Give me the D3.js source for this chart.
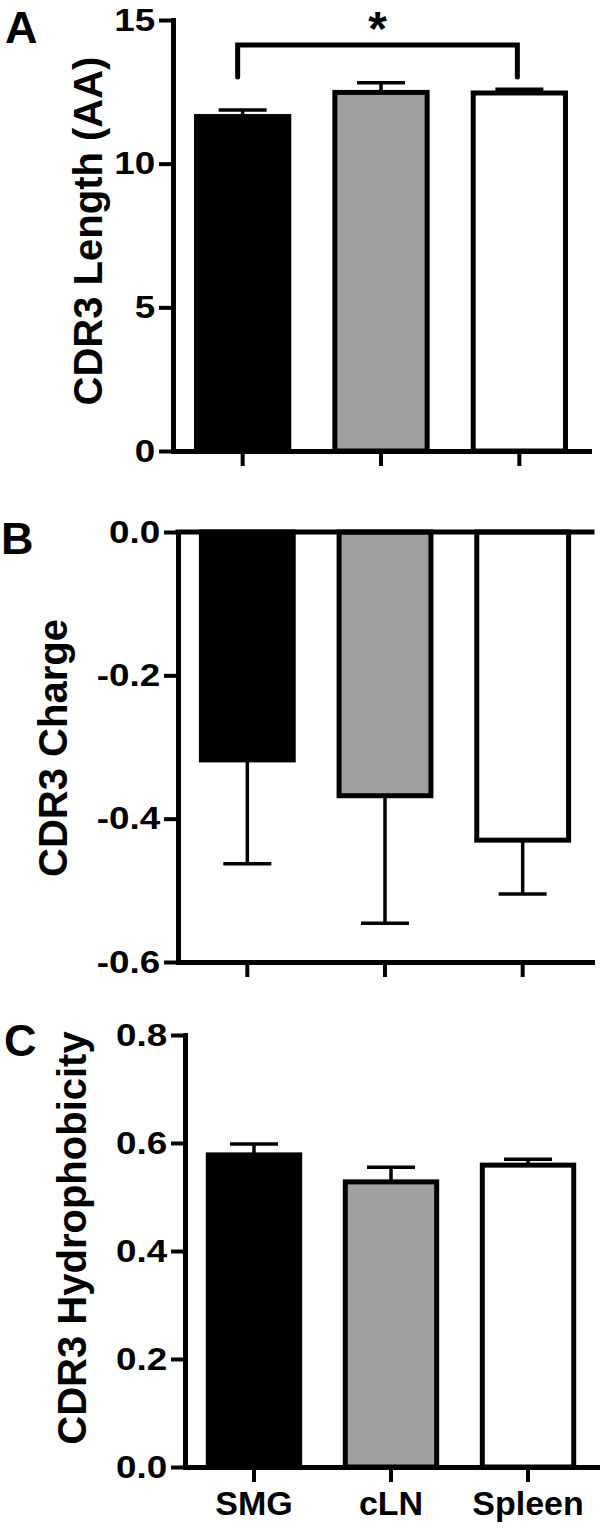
<!DOCTYPE html>
<html>
<head>
  <style>
  body { margin: 0; background: #fff; }
  #chart svg {
    font-family: "Liberation Sans", Arial, sans-serif;
    font-weight: bold;
  }
  </style>
</head>
<body>
  <script src="https://d3js.org/d3.v7.min.js"></script>
  <div id="chart"></div>
  <script>
    // groups and fills
    const groups = ["SMG", "cLN", "Spleen"];
    const fills = ["#000000", "#a0a0a0", "#ffffff"];

    // panel A: CDR3 length (mean, sem)
    const lengthMean = [11.64, 12.48, 12.46];
    const lengthSem = [0.23, 0.34, 0.13];
    const lengthTicks = [0, 5, 10, 15];

    // panel B: CDR3 charge
    const chargeMean = [-0.318, -0.368, -0.43];
    const chargeSem = [0.145, 0.178, 0.075];
    const chargeTicks = [0, -0.2, -0.4, -0.6];

    // panel C: CDR3 hydrophobicity
    const hydroMean = [0.578, 0.528, 0.559];
    const hydroSem = [0.02, 0.027, 0.011];
    const hydroTicks = [0, 0.2, 0.4, 0.6, 0.8];

    // significance bracket in A (SMG vs Spleen)
    const sigPair = ["SMG", "Spleen"];
    const sigLevel = [13.02, 14.13];

    const width = 603, height = 1533;
    const svg = d3.select('#chart').append('svg')
      .attr('width', width)
      .attr('height', height);

    function drawPanel(p) {
      const g = svg.append('g').attr('class', 'panel');
      const x = d3.scaleBand()
        .domain(groups)
        .range(p.xRange)
        .paddingInner(0.333)
        .paddingOuter(0.17);
      const y = d3.scaleLinear()
        .domain(p.domain)
        .range(p.yRange);
      const rows = groups.map((k, i) => ({key: k, mean: p.mean[i], sem: p.sem[i], fill: fills[i]}));

      // error bars (drawn first, bar outline covers the stem)
      const eb = g.append('g').attr('class', 'errors');
      rows.forEach(d => {
        const cx = x(d.key) + x.bandwidth() / 2;
        const end = d.mean < 0 ? d.mean - d.sem : d.mean + d.sem;
        eb.append('line')
          .attr('x1', cx).attr('x2', cx)
          .attr('y1', y(d.mean)).attr('y2', y(end))
          .attr('stroke', '#000').attr('stroke-width', 3.5);
        eb.append('line')
          .attr('x1', cx - 24).attr('x2', cx + 24)
          .attr('y1', y(end)).attr('y2', y(end))
          .attr('stroke', '#000').attr('stroke-width', 3.5);
      });

      g.append('g').attr('class', 'bars')
        .selectAll('rect')
        .data(rows)
        .enter().append('rect')
        .attr('x', d => x(d.key))
        .attr('width', x.bandwidth())
        .attr('y', d => y(Math.max(0, d.mean)))
        .attr('height', d => Math.abs(y(d.mean) - y(0)))
        .attr('fill', d => d.fill)
        .attr('stroke', '#000')
        .attr('stroke-width', 5);

      // zero line for negative panel
      if (p.domain[0] < 0) {
        g.append('line')
          .attr('x1', p.xRange[0]).attr('x2', p.xRange[1])
          .attr('y1', y(0)).attr('y2', y(0))
          .attr('stroke', '#000').attr('stroke-width', 5)
          .attr('stroke-linecap', 'square');
      }

      // x axis at the bottom of the value range
      const xAxis = g.append('g')
        .attr('transform', `translate(0,${p.yRange[0]})`)
        .call(d3.axisBottom(x).tickSize(15).tickSizeOuter(0).tickPadding(9)
          .tickFormat(p.showX ? (d => d) : () => ''));
      xAxis.select('.domain').attr('stroke-width', 5).attr('stroke-linecap', 'square');
      xAxis.selectAll('.tick line').attr('stroke-width', 4);
      xAxis.selectAll('.tick text')
        .attr('fill', '#000')
        .style('font-size', '34px')
        .style('font-family', '"Liberation Sans", Arial, sans-serif')
        .style('font-weight', 'bold');

      // y axis
      const yAxis = g.append('g')
        .attr('transform', `translate(${p.xRange[0]},0)`)
        .call(d3.axisLeft(y).tickValues(p.ticks).tickSize(14).tickSizeOuter(0).tickPadding(1.5)
          .tickFormat(p.fmt));
      yAxis.select('.domain').attr('stroke-width', 5).attr('stroke-linecap', 'square');
      yAxis.selectAll('.tick line').attr('stroke-width', 4);
      yAxis.selectAll('.tick text')
        .attr('fill', '#000')
        .attr('transform', 'scale(1.15,1)')
        .style('font-size', '32px')
        .style('font-family', '"Liberation Sans", Arial, sans-serif')
        .style('font-weight', 'bold');

      // axis title
      g.append('text')
        .attr('transform', `translate(${p.titleX},${p.titleY}) rotate(-90)`)
        .attr('text-anchor', 'middle')
        .style('font-size', '40px')
        .text(p.title);

      // panel letter
      g.append('text')
        .attr('x', p.letterPos[0]).attr('y', p.letterPos[1])
        .style('font-size', '45px')
        .text(p.letter);

      return {x, y, g};
    }

    const A = drawPanel({
      letter: 'A', letterPos: [5, 43],
      title: 'CDR3 Length (AA)', titleX: 102, titleY: 231,
      mean: lengthMean, sem: lengthSem, ticks: lengthTicks,
      domain: [0, 15], yRange: [451, 20], xRange: [173, 589],
      fmt: d => d3.format('d')(d), showX: false
    });

    // significance bracket
    const bx0 = A.x(sigPair[0]) + A.x.bandwidth() / 2 - 5;
    const bx1 = A.x(sigPair[1]) + A.x.bandwidth() / 2 - 2;
    A.g.append('path')
      .attr('d', `M${bx0},${A.y(sigLevel[0])}V${A.y(sigLevel[1])}H${bx1}V${A.y(sigLevel[0])}`)
      .attr('fill', 'none')
      .attr('stroke', '#000')
      .attr('stroke-width', 5)
      .attr('stroke-linecap', 'round');
    A.g.append('text')
      .attr('x', (bx0 + bx1) / 2)
      .attr('y', 45)
      .attr('text-anchor', 'middle')
      .style('font-size', '48px')
      .text('*');

    drawPanel({
      letter: 'B', letterPos: [1, 554],
      title: 'CDR3 Charge', titleX: 67, titleY: 748,
      mean: chargeMean, sem: chargeSem, ticks: chargeTicks,
      domain: [-0.6, 0], yRange: [962, 532], xRange: [178, 592],
      fmt: d => d.toFixed(1), showX: false
    });

    drawPanel({
      letter: 'C', letterPos: [4, 1056],
      title: 'CDR3 Hydrophobicity', titleX: 86, titleY: 1238,
      mean: hydroMean, sem: hydroSem, ticks: hydroTicks,
      domain: [0, 0.8], yRange: [1467, 1035], xRange: [185, 597],
      fmt: d => d.toFixed(1), showX: true
    });
  </script>
</body>
</html>
